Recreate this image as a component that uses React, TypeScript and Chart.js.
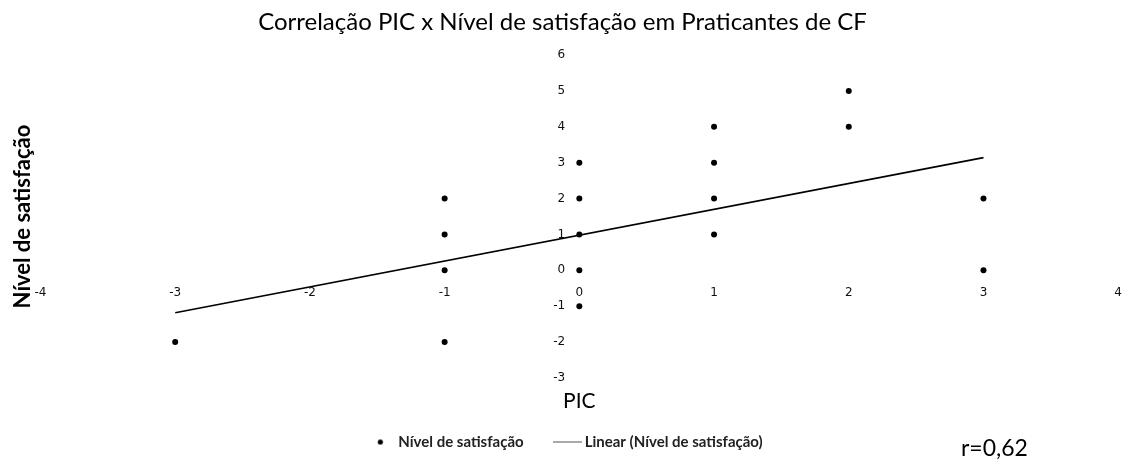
import { useEffect, useRef } from 'react';
import { Chart, registerables } from 'chart.js';

Chart.register(...registerables);

const chartTitle = 'Correlação PIC x Nível de satisfação em Praticantes de CF';
const xAxisTitle = 'PIC';
const yAxisTitle = 'Nível de satisfação';
const seriesName = 'Nível de satisfação';
const trendName = 'Linear (Nível de satisfação)';
const corrLabel = 'r=0,62';

const picValues = [-3, -1, -1, -1, -1, 0, 0, 0, 0, 0, 1, 1, 1, 1, 2, 2, 3, 3];
const satisfactionValues = [-2, 2, 1, 0, -2, 3, 2, 1, 0, -1, 4, 3, 2, 1, 5, 4, 2, 0];
const trendX = [-3, 3];
const trendY = [-1.18, 3.14];
const xMin = -4;
const xMax = 4;
const yMin = -3;
const yMax = 6;

function makeDot(): HTMLCanvasElement {
  const c = document.createElement('canvas');
  c.width = 29;
  c.height = 7;
  const g = c.getContext('2d')!;
  g.fillStyle = '#000';
  g.beginPath();
  g.arc(18.25, 3.5, 2.6, 0, Math.PI * 2);
  g.fill();
  return c;
}

function makeLine(): HTMLCanvasElement {
  const c = document.createElement('canvas');
  c.width = 38;
  c.height = 3;
  const g = c.getContext('2d')!;
  g.strokeStyle = '#555';
  g.lineWidth = 1;
  g.beginPath();
  g.moveTo(9, 1.5);
  g.lineTo(38, 1.5);
  g.stroke();
  return c;
}

export default function App() {
  const ref = useRef<HTMLCanvasElement | null>(null);

  useEffect(() => {
    if (!ref.current) return;
    const dot = makeDot();
    const line = makeLine();
    const points = picValues.map((x, i) => ({ x, y: satisfactionValues[i] }));
    const trend = trendX.map((x, i) => ({ x, y: trendY[i] }));
    const tickFont = { family: 'DejaVu Sans', size: 12 };
    const chart = new Chart(ref.current, {
      type: 'scatter',
      data: {
        datasets: [
          {
            label: seriesName,
            data: points,
            backgroundColor: '#000',
            borderColor: '#000',
            pointRadius: 3,
            pointBorderWidth: 0,
            showLine: false,
          },
          {
            label: trendName,
            data: trend,
            showLine: true,
            borderColor: '#000',
            backgroundColor: '#000',
            borderWidth: 1.6,
            pointRadius: 0,
          },
        ],
      },
      options: {
        animation: false,
        responsive: false,
        layout: { padding: { left: 0, right: 1, top: 0, bottom: 2.5 } },
        font: { family: 'Lato' },
        plugins: {
          title: {
            display: true,
            text: chartTitle,
            color: '#000',
            font: { family: 'Lato', size: 24, weight: 'normal', lineHeight: 1.2 },
            padding: { top: 7.6, bottom: 18.6 },
          },
          legend: {
            position: 'bottom',
            labels: {
              usePointStyle: true,
              pointStyleWidth: 28.5,
              padding: 25,
              color: '#222',
              font: { family: 'Lato', size: 15, weight: 'bold' },
              generateLabels: (ch: any) => {
                const base = Chart.defaults.plugins.legend.labels.generateLabels(ch);
                return base.map((l: any, i: number) => ({ ...l, pointStyle: i === 0 ? dot : line }));
              },
            },
          },
          tooltip: { enabled: false },
        },
        scales: {
          x: {
            type: 'linear',
            min: xMin,
            max: xMax,
            position: { y: 0 } as any,
            grid: { display: false, tickLength: 11.5 },
            border: { display: false },
            ticks: { stepSize: 1, padding: 4, color: '#111', font: tickFont },
          },
          y: {
            type: 'linear',
            min: yMin,
            max: yMax,
            position: { x: -0.105 } as any,
            grid: { display: false },
            border: { display: false },
            ticks: { stepSize: 1, padding: 0, color: '#111', font: tickFont },
          },
          xt: {
            type: 'linear',
            axis: 'x',
            position: 'bottom',
            min: xMin,
            max: xMax,
            grid: { display: false, drawTicks: false },
            border: { display: false },
            ticks: { display: false },
            title: {
              display: true,
              text: xAxisTitle,
              color: '#000',
              font: { family: 'Lato', size: 21, lineHeight: 0.8 },
              padding: { top: 14.7, bottom: 0 },
            },
          },
          yt: {
            type: 'linear',
            axis: 'y',
            position: 'left',
            min: yMin,
            max: yMax,
            grid: { display: false, drawTicks: false },
            border: { display: false },
            ticks: { display: false },
            title: {
              display: true,
              text: yAxisTitle,
              color: '#000',
              font: { family: 'Lato', size: 22, weight: 'bold', lineHeight: 1.2 },
              padding: { top: 10, bottom: 4.1 },
            },
          },
        },
      },
    } as any);
    return () => chart.destroy();
  }, []);

  return (
    <div style={{ position: 'absolute', left: 0, top: 0, width: 1126, height: 462, background: '#fff' }}>
      <canvas ref={ref} width={1126} height={462} />
      <div
        style={{
          position: 'absolute',
          left: 961,
          top: 432,
          fontFamily: 'Lato',
          fontSize: 23,
          lineHeight: '30px',
          color: '#000',
          whiteSpace: 'nowrap',
        }}
      >
        {corrLabel}
      </div>
    </div>
  );
}
